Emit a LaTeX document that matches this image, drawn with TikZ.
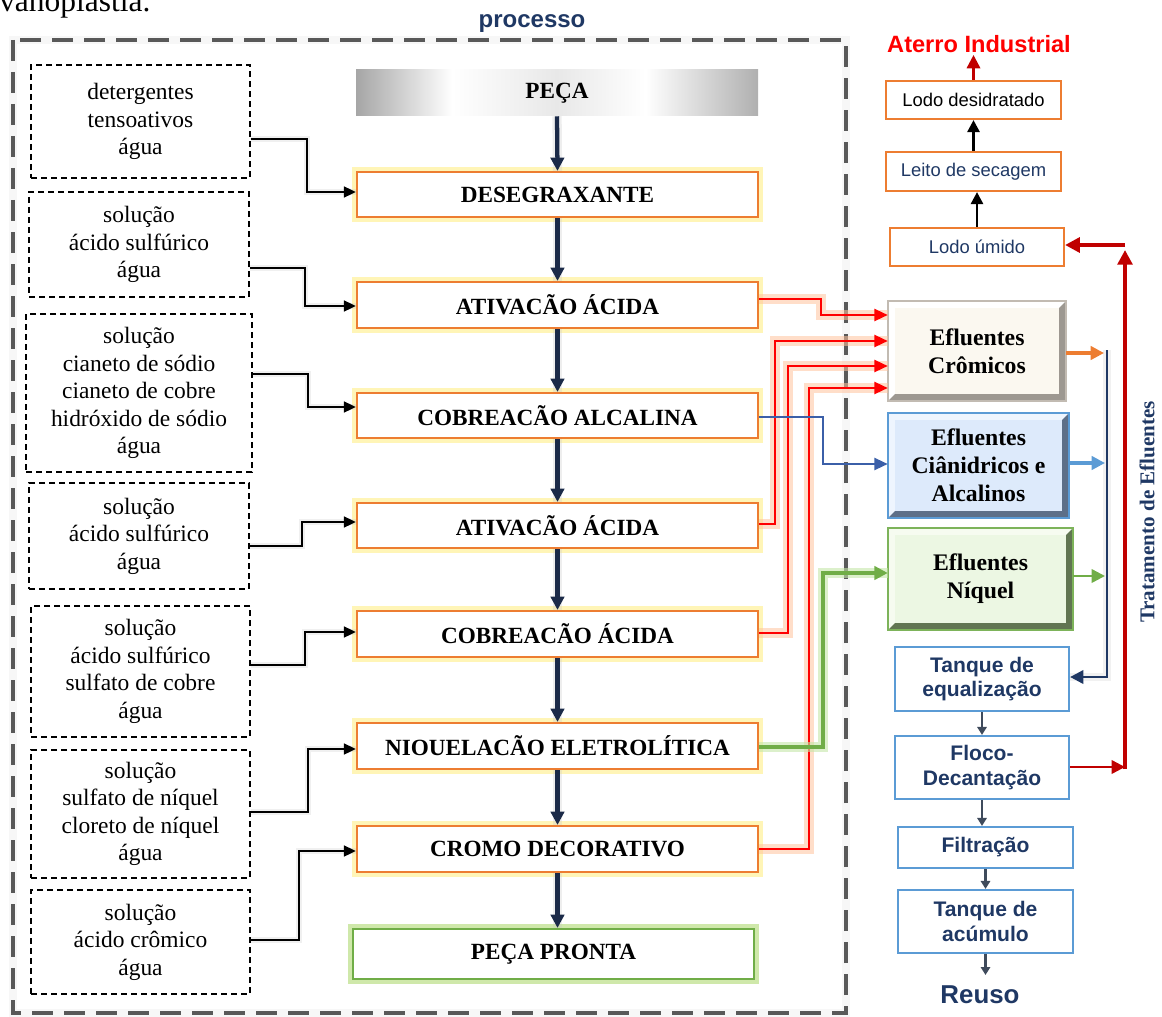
\documentclass[tikz,border=0pt]{standalone}
\usepackage{fontspec}
\setmainfont{Liberation Serif}
\setsansfont{Liberation Sans}
\usetikzlibrary{arrows.meta,calc}
\definecolor{borange}{HTML}{ED7D31}
\definecolor{glowy}{HTML}{FFF199}
\definecolor{navyt}{HTML}{1F3864}
\definecolor{flownavy}{HTML}{1B2A48}
\definecolor{bblue}{HTML}{5B9BD5}
\definecolor{bgreen}{HTML}{70AD47}
\definecolor{dred}{HTML}{C00000}
\definecolor{lblue}{HTML}{3B5FA8}
\definecolor{redglow}{HTML}{FFC29C}
\definecolor{greenglow}{HTML}{C4E6A8}
\definecolor{framegray}{HTML}{595959}
\definecolor{tankarrow}{HTML}{3F4B5C}
\definecolor{crface}{HTML}{FBF8F0}
\definecolor{crdark}{HTML}{9D9891}
\definecolor{crborder}{HTML}{C2BBB2}
\definecolor{ciface}{HTML}{DDEAFB}
\definecolor{cilight}{HTML}{EEF5FE}
\definecolor{cidark}{HTML}{5D6F88}
\definecolor{niface}{HTML}{ECF7E3}
\definecolor{nilight}{HTML}{F6FBF0}
\definecolor{nidark}{HTML}{617552}
\definecolor{niborder}{HTML}{7DB35A}
\pgfdeclarehorizontalshading{metal}{100bp}{color(0bp)=(gray!70); color(25bp)=(gray!70); color(37bp)=(white); color(50bp)=(gray!18); color(61bp)=(white); color(75bp)=(gray!62); color(100bp)=(gray!62)}
\newcommand{\bevelrect}[8]{%
  \fill[#6] (#1,#2) rectangle (#3,#4);
  \fill[#7] (#3,#2) -- (#3,#4) -- (#1,#4) -- ({#1+7},{#4-7}) -- ({#3-7},{#4-7}) -- ({#3-7},{#2+7}) -- cycle;
  \fill[#5] ({#1+7},{#2+7}) rectangle ({#3-7},{#4-7});
  \draw[#8, line width=1.4pt] (#1,#2) rectangle (#3,#4);
}
\newcommand{\placebox}[7][]{%
  \pgfmathsetmacro\pbcx{(#3+#5)/2}%
  \pgfmathsetmacro\pbcy{(#4+#6)/2}%
  \pgfmathsetmacro\pbw{(#5-#3)*0.75}%
  \pgfmathsetmacro\pbh{(#6-#4)*0.75}%
  \node[#1, minimum width=\pbw pt, minimum height=\pbh pt] (#2) at (\pbcx,\pbcy) {#7};}
\begin{document}
\begin{tikzpicture}[x=0.75pt,y=-0.75pt,
  procbox/.style={draw=borange, line width=1.6pt, fill=white, inner sep=0pt,
    font=\bfseries\fontsize{17.4}{20}\selectfont,
    preaction={draw=glowy, line width=7pt, opacity=0.7}},
  inbox/.style={draw=black, line width=1.1pt, dash pattern=on 4.5pt off 3pt, inner sep=0pt,
    align=center, font=\fontsize{17.6}{20.6}\selectfont},
  rbox/.style={draw=borange, line width=1.6pt, inner sep=0pt, font=\sffamily\fontsize{13.8}{16}\selectfont},
  tbox/.style={draw=bblue, line width=1.6pt, inner sep=0pt, align=center, text=navyt,
    font=\sffamily\bfseries\fontsize{15.8}{18.5}\selectfont},
  eftext/.style={inner sep=0pt, align=center, font=\bfseries\fontsize{17.8}{21}\selectfont},
  flow/.style={draw=flownavy, line width=3.2pt, -{Triangle[length=10pt,width=10pt]},
    preaction={draw=gray!45, line width=7pt, opacity=0.3, arrows=-}},
  inarrow/.style={draw=black, line width=1.9pt, -{Triangle[length=9pt,width=8pt]},
    preaction={draw=gray!40, line width=5pt, opacity=0.3, arrows=-}},
  redarr/.style={draw=red, line width=1.6pt, -{Triangle[length=10pt,width=9pt]},
    preaction={draw=redglow, line width=7pt, opacity=0.55, arrows=-}},
  bluearr/.style={draw=lblue, line width=1.6pt, -{Triangle[length=10pt,width=9pt]}},
  greenarr/.style={draw=bgreen, line width=2.4pt, -{Triangle[length=10pt,width=10pt]},
    preaction={draw=greenglow, line width=7pt, opacity=0.6, arrows=-}},
  tankarr/.style={draw=tankarrow, line width=2.2pt, -{Triangle[length=6pt,width=7pt]}},
  blackup/.style={draw=black, line width=2pt, -{Triangle[length=9pt,width=9pt]}},
  redthick/.style={draw=dred, line width=3pt, -{Triangle[length=11pt,width=11pt]}},
  redthin/.style={draw=dred, line width=1.8pt, -{Triangle[length=10pt,width=10pt]}},
  sidearr/.style={line width=2.4pt, -{Triangle[length=10pt,width=10pt]}}
]
\useasboundingbox (0,0) rectangle (1162,1016);
\clip (0,0) rectangle (1162,1016);

% top clipped caption and title
\node[anchor=base west, inner sep=0pt, font=\fontsize{23.6}{26}\selectfont] (cap) at (-1,12) {vanoplastia.};
\node[anchor=base, inner sep=0pt, text=navyt, font=\sffamily\bfseries\fontsize{18}{20}\selectfont] (titulo) at (532,28) {processo};

% outer dashed frame
\draw[framegray, line width=3pt, dash pattern=on 16pt off 8pt,
  preaction={draw=gray!25, line width=6pt, opacity=0.25}] (13,40) rectangle (846,1013);

% input boxes
\placebox[inbox]{in1}{31}{65}{250}{178}{detergentes\\tensoativos\\água}
\placebox[inbox]{in2}{29}{192}{249}{297}{solução\\ácido sulfúrico\\água}
\placebox[inbox]{in3}{26}{314}{252}{472}{solução\\cianeto de sódio\\cianeto de cobre\\hidróxido de sódio\\água}
\placebox[inbox]{in4}{29}{483}{249}{589}{solução\\ácido sulfúrico\\água}
\placebox[inbox]{in5}{31}{606}{250}{737}{solução\\ácido sulfúrico\\sulfato de cobre\\água}
\placebox[inbox]{in6}{31}{750}{250}{878}{solução\\sulfato de níquel\\cloreto de níquel\\água}
\placebox[inbox]{in7}{31}{890}{250}{994}{solução\\ácido crômico\\água}

% process boxes
\placebox[inner sep=0pt, shade, shading=metal, font=\bfseries\fontsize{17.4}{20}\selectfont]{peca}{356}{70}{758}{116}{PEÇA}
\placebox[procbox]{deseg}{357}{172}{758}{217}{DESEGRAXANTE}
\placebox[procbox]{ativ1}{357}{282}{758}{328}{ATIVACÃO ÁCIDA}
\placebox[procbox]{cobal}{357}{393}{758}{438}{COBREACÃO ALCALINA}
\placebox[procbox]{ativ2}{357}{503}{758}{548}{ATIVACÃO ÁCIDA}
\placebox[procbox]{cobac}{357}{611}{758}{657}{COBREACÃO ÁCIDA}
\placebox[procbox]{niq}{357}{723}{758}{769}{NIOUELACÃO ELETROLÍTICA}
\placebox[procbox]{cromo}{357}{826}{758}{872}{CROMO DECORATIVO}
\placebox[procbox, draw=bgreen, preaction={draw=greenglow, line width=7pt, opacity=0.8}]{pronta}{353}{929}{754}{979}{PEÇA PRONTA}

% flow arrows
\draw[flow] (peca.south) -- (deseg.north);
\draw[flow] (deseg.south) -- (ativ1.north);
\draw[flow] (ativ1.south) -- (cobal.north);
\draw[flow] (cobal.south) -- (ativ2.north);
\draw[flow] (ativ2.south) -- (cobac.north);
\draw[flow] (cobac.south) -- (niq.north);
\draw[flow] (niq.south) -- (cromo.north);
\draw[flow] (cromo.south) -- (cromo.south |- pronta.north);

% input arrows
\draw[inarrow] (in1.east |- 0,139) -- (307,139) -- (307,192) -- (deseg.west |- 0,192);
\draw[inarrow] (in2.east |- 0,268) -- (305,268) -- (305,306) -- (ativ1.west |- 0,306);
\draw[inarrow] (in3.east |- 0,374) -- (308,374) -- (308,407) -- (cobal.west |- 0,407);
\draw[inarrow] (in4.east |- 0,546) -- (302,546) -- (302,522) -- (ativ2.west |- 0,522);
\draw[inarrow] (in5.east |- 0,665) -- (305,665) -- (305,632) -- (cobac.west |- 0,632);
\draw[inarrow] (in6.east |- 0,812) -- (308,812) -- (308,749) -- (niq.west |- 0,749);
\draw[inarrow] (in7.east |- 0,940) -- (299,940) -- (299,851) -- (cromo.west |- 0,851);

% effluent boxes
\bevelrect{888}{301}{1066}{401}{crface}{white}{crdark}{crborder}
\placebox[eftext]{crom}{888}{301}{1066}{401}{Efluentes\\Crômicos}
\bevelrect{888}{413}{1069}{518}{ciface}{cilight}{cidark}{bblue}
\placebox[eftext]{cian}{888}{413}{1069}{518}{Efluentes\\Ciânidricos e\\Alcalinos}
\bevelrect{888}{528}{1073}{630}{niface}{nilight}{nidark}{niborder}
\placebox[eftext]{niquel}{888}{528}{1073}{630}{Efluentes\\Níquel}

% connectors to effluents
\draw[redarr] (ativ1.east |- 0,299) -- (821,299) -- (821,315) -- (crom.west |- 0,315);
\draw[redarr] (ativ2.east |- 0,524) -- (775,524) -- (775,341) -- (crom.west |- 0,341);
\draw[redarr] (cobac.east |- 0,633) -- (788,633) -- (788,366) -- (crom.west |- 0,366);
\draw[redarr] (cromo.east |- 0,849) -- (809,849) -- (809,388) -- (crom.west |- 0,388);
\draw[bluearr] (cobal.east |- 0,417) -- (823,417) -- (823,464) -- (cian.west |- 0,464);
\draw[greenarr] (niq.east |- 0,747) -- (823,747) -- (823,573) -- (niquel.west |- 0,573);

% sludge column
\placebox[rbox]{lodes}{886}{81}{1061}{119}{Lodo desidratado}
\placebox[rbox, text=navyt]{leito}{886}{152}{1061}{191}{Leito de secagem}
\placebox[rbox, text=navyt]{lumido}{890}{228}{1064}{266}{Lodo úmido}
\node[anchor=base, inner sep=0pt, text=red, font=\sffamily\bfseries\fontsize{17.7}{20}\selectfont] (aterro) at (979,53) {Aterro Industrial};
\draw[redthin] (lodes.north) -- (lodes.north |- 0,55);
\draw[blackup] (leito.north) -- (lodes.south);
\draw[blackup] (lumido.north) -- (lumido.north |- leito.south);

% treatment column
\placebox[tbox]{teq}{895}{647}{1069}{711}{Tanque de\\equalização}
\placebox[tbox]{floco}{895}{736}{1069}{799}{Floco-\\Decantação}
\placebox[tbox]{filt}{898}{827}{1073}{868}{Filtração}
\placebox[tbox]{tacum}{898}{890}{1073}{953}{Tanque de\\acúmulo}
\node[inner sep=0pt, text=navyt, font=\sffamily\bfseries\fontsize{19.4}{22}\selectfont] (reuso) at (980,995) {Reuso};
\draw[tankarr] (teq.south) -- (floco.north);
\draw[tankarr] (floco.south) -- (floco.south |- filt.north);
\draw[tankarr] (filt.south) -- (filt.south |- tacum.north);
\draw[tankarr] (tacum.south) -- (tacum.south |- 0,975);

% collector bracket
\coordinate (brtop) at (1107,350);
\coordinate (brbot) at (1107,677);
\draw[draw=navyt, line width=2pt, -{Triangle[length=10pt,width=10pt]},
  preaction={draw=gray!35, line width=6pt, opacity=0.3, arrows=-}] (brtop) -- (brbot) -- (teq.east |- brbot);
\draw[sidearr, draw=borange] (crom.east |- 0,353) -- (1104,353);
\draw[sidearr, draw=bblue] (cian.east |- 0,463) -- (1105,463);
\draw[sidearr, draw=bgreen, line width=1.8pt] (niquel.east |- 0,576) -- (1105,576);

% sludge return
\coordinate (rbot) at (1125,767);
\coordinate (rtop) at (1125,245);
\draw[redthin] (floco.east |- rbot) -- (rbot);
\draw[redthick] (1125,769) -- (1125,250);
\draw[redthick] (rtop) -- (lumido.east |- rtop);

\node[rotate=90, inner sep=0pt, text=navyt, font=\bfseries\fontsize{15.8}{18}\selectfont] (trat) at (1147,512) {Tratamento de Efluentes};
\end{tikzpicture}
\end{document}
